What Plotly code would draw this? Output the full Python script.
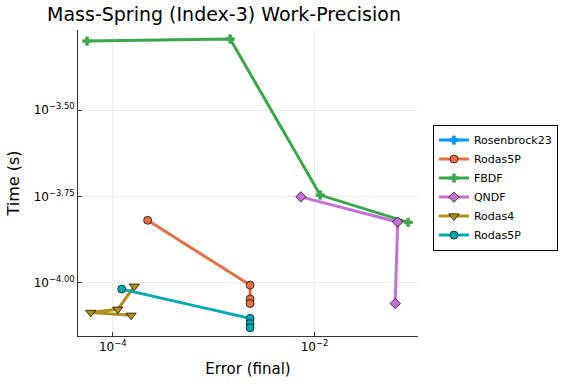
import plotly.graph_objects as go

# Data (error, time)
rosen_err = [None]
rosen_time = [None]

rodas5p_a_err = [2.22e-4, 2.30e-3, 2.30e-3, 2.30e-3]
rodas5p_a_time = [1.517e-4, 9.85e-5, 8.97e-5, 8.71e-5]

fbdf_err = [5.56e-5, 1.459e-3, 1.140e-2, 8.49e-2]
fbdf_time = [5.01e-4, 5.08e-4, 1.795e-4, 1.496e-4]

qndf_err = [7.33e-3, 6.67e-2, 6.32e-2]
qndf_time = [1.774e-4, 1.500e-4, 8.71e-5]

rodas4_err = [1.637e-4, 1.122e-4, 6.05e-5, 1.521e-4]
rodas4_time = [9.77e-5, 8.38e-5, 8.20e-5, 8.05e-5]

rodas5p_b_err = [1.227e-4, 2.30e-3, 2.30e-3, 2.30e-3]
rodas5p_b_time = [9.59e-5, 7.89e-5, 7.62e-5, 7.41e-5]

series = [
    ("Rosenbrock23", rosen_err, rosen_time, "#009AFA", "cross", 7),
    ("Rodas5P", rodas5p_a_err, rodas5p_a_time, "#E36F47", "circle", 8),
    ("FBDF", fbdf_err, fbdf_time, "#3EA44E", "cross", 7),
    ("QNDF", qndf_err, qndf_time, "#C371D2", "diamond", 8),
    ("Rodas4", rodas4_err, rodas4_time, "#AC8E18", "triangle-down", 9),
    ("Rodas5P", rodas5p_b_err, rodas5p_b_time, "#00AAAE", "circle", 8),
]

x_ticks = [1e-4, 1e-2]
x_ticktext = ["10<sup>\u22124</sup>", "10<sup>\u22122</sup>"]
y_ticks = [10 ** -3.5, 10 ** -3.75, 10 ** -4.0]
y_ticktext = ["10<sup>\u22123.50</sup>", "10<sup>\u22123.75</sup>", "10<sup>\u22124.00</sup>"]

fig = go.Figure()
for name, xs, ys, color, sym, size in series:
    line_marker = dict(symbol=sym, size=size, color=color,
                       line=dict(color="black" if sym != "cross" else color, width=0.7))
    fig.add_trace(go.Scatter(
        x=xs, y=ys, name=name, mode="lines+markers",
        line=dict(color=color, width=3),
        marker=line_marker,
    ))

fig.update_layout(
    width=576, height=384,
    margin=dict(l=78, r=158, t=30, b=48, autoexpand=False),
    paper_bgcolor="white", plot_bgcolor="white",
    font=dict(family="DejaVu Sans", size=11, color="black"),
    title=dict(text="Mass-Spring (Index-3) Work-Precision", x=224 / 576, xanchor="center",
               y=1 - 14 / 384, yanchor="middle", font=dict(size=19)),
    showlegend=True,
    legend=dict(x=1.044, y=0.485, xanchor="left", yanchor="middle",
                bordercolor="black", borderwidth=1, bgcolor="white",
                font=dict(size=11), tracegroupgap=0, itemwidth=30),
)
fig.update_xaxes(
    type="log", range=[-4.344, -0.974], automargin=False,
    tickvals=x_ticks, ticktext=x_ticktext,
    showgrid=True, gridcolor="#ececec", gridwidth=1,
    showline=True, linecolor="#333", linewidth=1, mirror=False,
    ticks="inside", ticklen=4, tickcolor="#333",
    zeroline=False,
    title=dict(text="Error (final)", font=dict(size=15), standoff=10),
    tickfont=dict(size=12),
)
fig.update_yaxes(
    type="log", range=[-4.154, -3.268], automargin=False,
    tickvals=y_ticks, ticktext=y_ticktext,
    showgrid=True, gridcolor="#ececec", gridwidth=1,
    showline=True, linecolor="#333", linewidth=1, mirror=False,
    ticks="inside", ticklen=4, tickcolor="#333",
    zeroline=False,
    title=dict(text="Time (s)", font=dict(size=16), standoff=10),
    tickfont=dict(size=12),
)

fig.write_html("out.html", config={"displayModeBar": False},
               post_script="document.body.style.margin='0';")
